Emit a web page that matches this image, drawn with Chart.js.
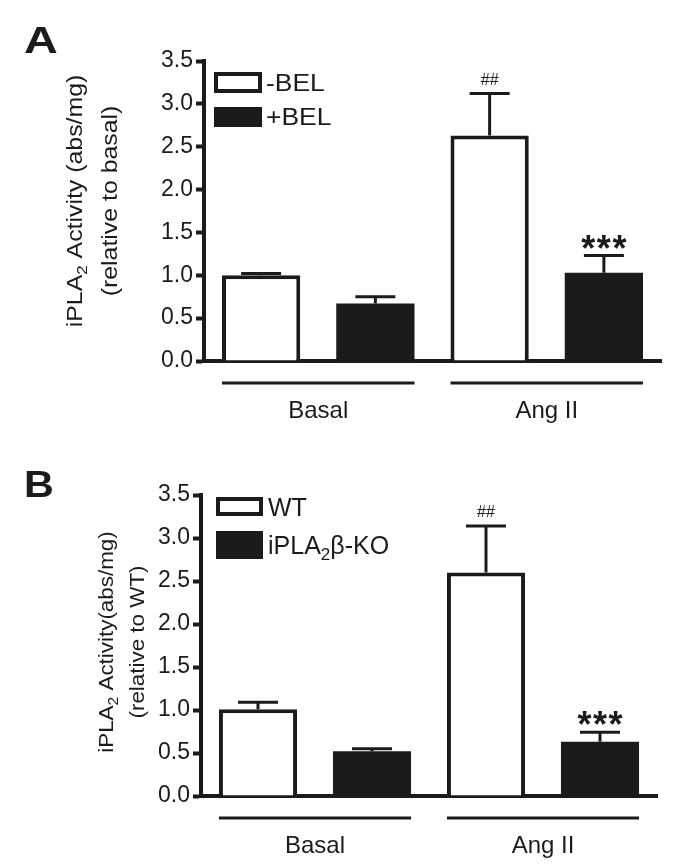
<!DOCTYPE html>
<html>
<head>
<meta charset="utf-8">
<script src="https://cdn.jsdelivr.net/npm/chart.js@4.4.1/dist/chart.umd.min.js"></script>
<style>
  html, body { margin: 0; padding: 0; background: #fff; }
  #wrap { position: relative; width: 688px; height: 865px; }
  .panel { position: absolute; left: 0; width: 688px; }
  #panelA { top: 0; height: 430px; }
  #panelB { top: 430px; height: 435px; }
</style>
</head>
<body>
<div id="wrap">
  <div class="panel" id="panelA"><canvas id="chartA"></canvas></div>
  <div class="panel" id="panelB"><canvas id="chartB"></canvas></div>
</div>
<script>
// --- data ---
const categories = ['Basal (open)', 'Basal (filled)', 'Ang II (open)', 'Ang II (filled)'];
const groupLabels = ['Basal', 'Ang II'];
const yMin = 0;
const yMax = 3.5;
const yStep = 0.5;

// panel A
const aOpenLabel = '-BEL';
const aOpen = [1.00, null, 2.63, null];
const aOpenErr = [0.02, null, 0.49, null];
const aFilledLabel = '+BEL';
const aFilled = [null, 0.67, null, 1.03];
const aFilledErr = [null, 0.08, null, 0.20];
const aMarks = [null, null, '##', '***'];
const aTitle = ['iPLA_2 Activity (abs/mg)', '(relative to basal)'];

// panel B
const bOpenLabel = 'WT';
const bOpen = [1.01, null, 2.60, null];
const bOpenErr = [0.08, null, 0.54, null];
const bFilledLabel = 'iPLA_2β-KO';
const bFilled = [null, 0.52, null, 0.63];
const bFilledErr = [null, 0.03, null, 0.11];
const bMarks = [null, null, '##', '***'];
const bTitle = ['iPLA_2 Activity(abs/mg)', '(relative to WT)'];

const INK = '#1b1b1b';
const FONT = "'Liberation Sans', Arial, Helvetica, sans-serif";
Chart.defaults.font.family = FONT;
Chart.defaults.color = INK;

// "_2" -> subscript 2
function toParts(str) {
  return str.split(/(_\w)/).filter(s => s.length).map(s =>
    s[0] === '_' ? { t: s.slice(1), sub: true } : { t: s, sub: false });
}

function drawRich(ctx, str, x, y, o) {
  const parts = toParts(str);
  ctx.save();
  ctx.translate(x, y);
  if (o.rotate) ctx.rotate(o.rotate);
  ctx.scale(o.sx || 1, 1);
  ctx.fillStyle = INK;
  ctx.textBaseline = 'alphabetic';
  ctx.textAlign = 'left';
  const w = o.bold ? 'bold ' : '';
  const fontFor = p => w + (p.sub ? Math.round(o.size * 0.68) : o.size) + 'px ' + FONT;
  const gap = o.spacing || 0;
  let total = 0;
  parts.forEach(p => { ctx.font = fontFor(p); total += ctx.measureText(p.t).width + gap * p.t.length; });
  total -= gap;
  let cx = o.align === 'center' ? -total / 2 : 0;
  parts.forEach(p => {
    ctx.font = fontFor(p);
    const dy = p.sub ? o.size * 0.24 : 0;
    if (gap) {
      for (const ch of p.t) {
        ctx.fillText(ch, cx, dy);
        cx += ctx.measureText(ch).width + gap;
      }
    } else {
      ctx.fillText(p.t, cx, dy);
      cx += ctx.measureText(p.t).width;
    }
  });
  ctx.restore();
}

// error bars + significance marks
const errorBars = {
  id: 'errorBars',
  afterDatasetsDraw(chart) {
    const ctx = chart.ctx;
    const y = chart.scales.y;
    chart.data.datasets.forEach((ds, di) => {
      const meta = chart.getDatasetMeta(di);
      ds.data.forEach((v, i) => {
        if (v === null) return;
        const bar = meta.data[i];
        const top = y.getPixelForValue(v + ds.errors[i]);
        ctx.save();
        ctx.strokeStyle = INK;
        ctx.lineWidth = 3;
        ctx.beginPath();
        ctx.moveTo(bar.x, bar.y);
        ctx.lineTo(bar.x, top);
        ctx.moveTo(bar.x - 20, top);
        ctx.lineTo(bar.x + 20, top);
        ctx.stroke();
        ctx.restore();
        const m = ds.marks && ds.marks[i];
        if (m === '##') {
          drawRich(ctx, m, bar.x, top - 9, { size: 16, align: 'center' });
        } else if (m) {
          drawRich(ctx, m, bar.x, top + 5, { size: 36, bold: true, align: 'center', spacing: 1.5 });
        }
      });
    });
  }
};

// panel letter, axis title, legend, group brackets
const decor = {
  id: 'decor',
  afterDraw(chart, args, o) {
    const ctx = chart.ctx;
    const area = chart.chartArea;
    const x = chart.scales.x;

    drawRich(ctx, o.letter, 24, o.letterY, { size: 36, bold: true, sx: o.letterSx });

    o.title.forEach((line, k) => {
      drawRich(ctx, line, o.titleX[k], o.titleY, { size: o.titleSize, sx: o.titleSx, rotate: -Math.PI / 2, align: 'center' });
    });

    // legend
    const L = o.legend;
    chart.data.datasets.forEach((ds, di) => {
      const r = L.rows[di];
      const bx = area.left + L.dx;
      const by = area.top + r[0];
      const h = r[1] - r[0];
      ctx.save();
      ctx.fillStyle = ds.backgroundColor;
      ctx.fillRect(bx, by, L.w, h);
      if (ds.borderWidth) {
        ctx.strokeStyle = ds.borderColor;
        ctx.lineWidth = 4;
        ctx.strokeRect(bx + 2, by + 2, L.w - 4, h - 4);
      }
      ctx.restore();
      drawRich(ctx, ds.label, bx + L.w + L.gap, by + h / 2 + L.size * 0.36, { size: L.size, sx: L.sx });
    });

    // group lines and labels under the axis
    const half = chart.getDatasetMeta(0).data[0].width / 2;
    groupLabels.forEach((g, k) => {
      const x1 = x.getPixelForValue(2 * k) - half;
      const x2 = x.getPixelForValue(2 * k + 1) + half;
      ctx.save();
      ctx.strokeStyle = INK;
      ctx.lineWidth = 3;
      ctx.beginPath();
      ctx.moveTo(x1, area.bottom + 22);
      ctx.lineTo(x2, area.bottom + 22);
      ctx.stroke();
      ctx.restore();
      drawRich(ctx, g, (x1 + x2) / 2, area.bottom + 57, { size: 24, align: 'center' });
    });
  }
};

function buildPanel(id, d, lay) {
  const ctx = document.getElementById(id).getContext('2d');
  return new Chart(ctx, {
    type: 'bar',
    data: {
      labels: categories,
      datasets: [{
        label: d.openLabel,
        data: d.open,
        errors: d.openErr,
        marks: d.marks,
        backgroundColor: '#ffffff',
        borderColor: INK,
        borderWidth: 4
      }, {
        label: d.filledLabel,
        data: d.filled,
        errors: d.filledErr,
        marks: d.marks,
        backgroundColor: INK,
        borderWidth: 0
      }]
    },
    options: {
      responsive: true,
      maintainAspectRatio: false,
      animation: false,
      events: [],
      grouped: false,
      categoryPercentage: 1,
      barPercentage: 0.685,
      layout: {
        padding: { left: 0, top: lay.top, right: 688 - lay.right, bottom: lay.height - lay.bottom }
      },
      scales: {
        x: {
          z: 1,
          grid: { display: false },
          ticks: { display: false },
          border: { display: true, width: 4, color: INK },
          afterFit: s => { s.height = 0; }
        },
        y: {
          z: 1,
          min: yMin,
          max: yMax,
          ticks: {
            stepSize: yStep,
            color: INK,
            padding: 3,
            font: { size: 23 },
            callback: v => Number(v).toFixed(1)
          },
          grid: { drawOnChartArea: false, tickLength: 8, tickWidth: 4, tickColor: INK, color: INK },
          border: { display: true, width: 4, color: INK },
          afterFit: s => { s.width = lay.left; }
        }
      },
      plugins: {
        legend: { display: false },
        tooltip: { enabled: false },
        decor: lay.decor
      }
    },
    plugins: [errorBars, decor]
  });
}

buildPanel('chartA', {
  openLabel: aOpenLabel, open: aOpen, openErr: aOpenErr,
  filledLabel: aFilledLabel, filled: aFilled, filledErr: aFilledErr,
  marks: aMarks
}, {
  left: 204, right: 661, top: 61, bottom: 361, height: 430,
  decor: {
    letter: 'A', letterY: 53, letterSx: 1.3,
    title: aTitle, titleX: [82, 117], titleY: 201, titleSize: 22, titleSx: 1.13,
    legend: { dx: 10, w: 48, gap: 4, rows: [[11, 32], [46, 66]], size: 23, sx: 1.15 }
  }
});

buildPanel('chartB', {
  openLabel: bOpenLabel, open: bOpen, openErr: bOpenErr,
  filledLabel: bFilledLabel, filled: bFilled, filledErr: bFilledErr,
  marks: bMarks
}, {
  left: 201, right: 657, top: 65, bottom: 366, height: 435,
  decor: {
    letter: 'B', letterY: 67, letterSx: 1.15,
    title: bTitle, titleX: [113, 144], titleY: 212, titleSize: 20, titleSx: 1.12,
    legend: { dx: 15, w: 47, gap: 5, rows: [[2, 21], [36, 64]], size: 25, sx: 1.0 }
  }
});
</script>
</body>
</html>
